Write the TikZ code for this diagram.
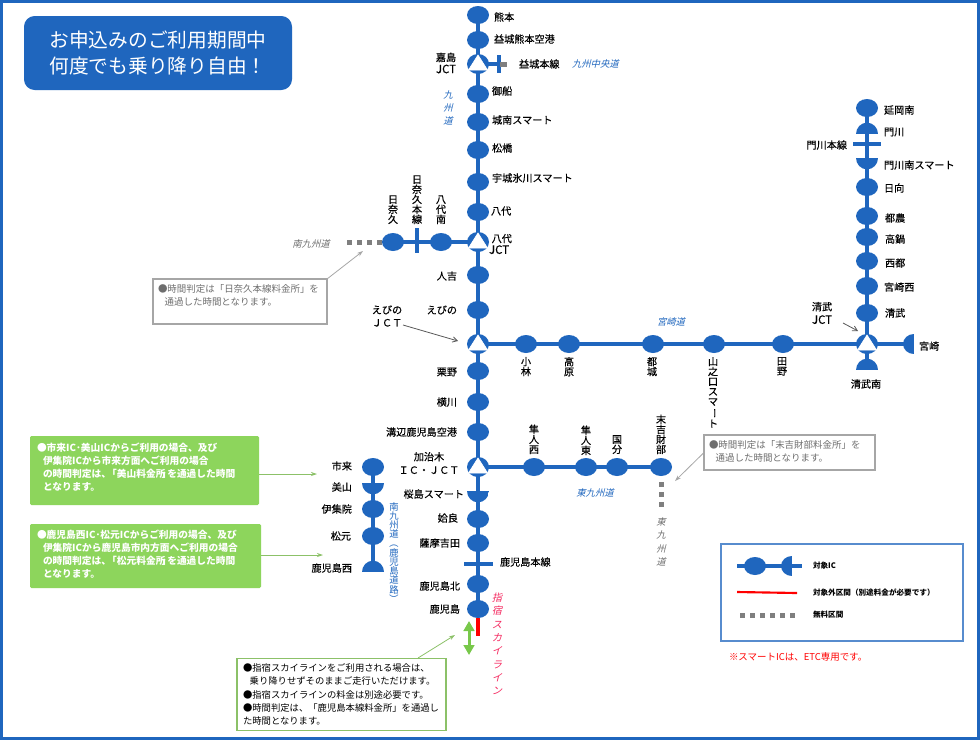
\documentclass[tikz,border=0pt]{standalone}
\usepackage{fontspec}
\setmainfont{Noto Sans CJK JP}
\newfontfamily\slantfont[FakeSlant=0.25]{Noto Sans CJK JP}
\newfontfamily\labfont[FakeBold=0.25]{Noto Sans CJK JP}
\usetikzlibrary{shapes.geometric,arrows.meta,backgrounds}
\definecolor{icblue}{HTML}{1F66BE}
\definecolor{framegray}{HTML}{A6A6A6}
\definecolor{notegray}{HTML}{6E6E6E}
\definecolor{dotgray}{HTML}{7F7F7F}
\definecolor{panelgreen}{HTML}{8DD55C}
\definecolor{linegreen}{HTML}{8CC168}
\definecolor{arrowgreen}{HTML}{78C84A}
\definecolor{pinkred}{HTML}{F5285F}
\newcommand{\vbarchar}{\rotatebox[origin=c]{-90}{ー}}
\newcommand{\vopen}{\rotatebox[origin=c]{-90}{（}}
\newcommand{\vclose}{\rotatebox[origin=c]{-90}{）}}
\newcommand{\fs}[2]{\fontsize{#1}{#2}\selectfont}
\newcommand{\pj}{\hspace{-3pt}}
\newcommand{\jctfont}{\fontsize{8.6}{9}\selectfont}
\tikzset{
  every node/.style={inner sep=0pt,outer sep=0pt},
  ic/.style={ellipse,fill=icblue,minimum width=16.5pt,minimum height=13.5pt},
  halfbase/.style={ellipse,minimum width=16.5pt,minimum height=17pt},
  halfdown/.style={halfbase,path picture={\fill[icblue] (path picture bounding box.west) rectangle (path picture bounding box.south east);}},
  halfup/.style={halfbase,path picture={\fill[icblue] (path picture bounding box.west) rectangle (path picture bounding box.north east);}},
  halfleft/.style={ellipse,minimum width=16.5pt,minimum height=15pt,path picture={\fill[icblue] (path picture bounding box.north) rectangle (path picture bounding box.south west);}},
  jct/.style={ic,minimum height=15pt,path picture={\filldraw[white,line width=.5pt,shift={(path picture bounding box.center)}] (0,-9) -- (9.5,6) -- (-9.5,6) -- cycle;}},
  road/.style={draw=icblue,line width=3.4pt},
  freedots/.style={draw=dotgray,line width=3.75pt,dash pattern=on 3.75pt off 3.75pt},
  barline/.style={draw=icblue,line width=3pt},
  lab/.style={font=\labfont\fs{7.6}{8}},
  vlab/.style={font=\labfont\fs{7.6}{7.5},align=center},
  road name/.style={font=\slantfont\fs{7}{8},text=icblue},
  thinarrow/.style={draw=#1,line width=.6pt,-{Stealth[length=4.5pt,width=3pt]}},
  barbarrow/.style={draw=#1,line width=.6pt,-{Straight Barb[length=3.5pt,width=4pt]}},
  grayframe/.style={draw=framegray,line width=2pt,fill=white},
  greenpanel/.style={fill=panelgreen,rounded corners=1pt},
  panelsmall/.style={font=\bfseries\fs{7.3}{9.9},text=white,align=left,anchor=west},
  graynote/.style={font=\fs{7.1}{9.9},text=notegray,align=left,anchor=west},
  legendtext/.style={font=\bfseries\fs{5.7}{6},anchor=west},
}
\begin{document}
\begin{tikzpicture}[x=.75pt,y=-.75pt]
\useasboundingbox (0,0) rectangle (980,740);
\begin{scope}[on background layer]
\fill[white] (0,0) rectangle (980,740);
\end{scope}
\node[draw=icblue,line width=2.25pt,minimum width=733pt,minimum height=552.75pt] (frame) at (490,370) {};
% title
\node[fill=icblue,rounded corners=8pt,minimum width=201pt,minimum height=55.5pt,text=white,align=center,font=\fs{14.8}{19.5}] (title) at (158,53) {お申込みのご利用期間中\\何度でも乗り降り自由！};

% ---- Kyushu expressway
\node[ic] (kumamoto) at (478,15) {};
\node[ic] (mashikiap) at (478,40) {};
\node[jct] (kashima) at (478,64) {};
\node[ic] (mifune) at (478,94) {};
\node[ic] (jonan) at (478,122) {};
\node[ic] (matsubase) at (478,150) {};
\node[ic] (ukijo) at (478,182) {};
\node[ic] (yatsushiro) at (478,212) {};
\node[jct] (yatsuj) at (478,242) {};
\node[ic] (hitoyoshi) at (478,275) {};
\node[ic] (ebino) at (478,310) {};
\node[jct] (ebinoj) at (478,344) {};
\node[ic] (kurino) at (478,371) {};
\node[ic] (yokogawa) at (478,402) {};
\node[ic] (mizobe) at (478,432) {};
\node[jct] (kajiki) at (478,467) {};
\node[halfdown] (sakurajima) at (478,491) {};
\node[ic] (aira) at (478,519) {};
\node[ic] (satsuma) at (478,543) {};
\coordinate (kmain) at (478,564);
\node[ic] (kagoshimakita) at (478,584) {};
\node[ic] (kagoshima) at (478,609) {};
\coordinate (skyend) at (478,636);
% Hinagu branch
\node[ic] (hinagu) at (393,242) {};
\node[ic] (yatsuminami) at (441,242) {};
\coordinate (hmain) at (417,242);
\coordinate (minamiend) at (347,242);
% Mashiki stub
\coordinate (mmain) at (499,64);
\coordinate (mstub) at (507,64);
% Miyazaki
\node[ic] (kobayashi) at (526,344) {};
\node[ic] (takaharu) at (569,344) {};
\node[ic] (miyakonojo) at (653,344) {};
\node[ic] (yamanokuchi) at (714,344) {};
\node[ic] (tano) at (783,344) {};
\node[jct] (kiyotakej) at (867,344) {};
\node[halfleft] (miyazaki) at (914,344) {};
\node[halfup] (kiyotakeminami) at (867,370) {};
% Higashi Kyushu north
\node[ic] (nobeokaminami) at (867,108) {};
\node[halfup] (kadogawa) at (867,134) {};
\coordinate (kadomain) at (867,144);
\node[halfdown] (kadogawaminami) at (867,158) {};
\node[ic] (hyuga) at (867,187) {};
\node[ic] (tsuno) at (867,216) {};
\node[ic] (takanabe) at (867,237) {};
\node[ic] (saito) at (867,261) {};
\node[ic] (miyazakinishi) at (867,286) {};
\node[ic] (kiyotake) at (867,313) {};
% Higashi Kyushu south
\node[ic] (hayatonishi) at (534,467) {};
\node[ic] (hayatohigashi) at (586,467) {};
\node[ic] (kokubu) at (617,467) {};
\node[ic] (sueyoshi) at (661,467) {};
\coordinate (sueend) at (661,507);
% Minami Kyushu
\node[ic] (ichiki) at (373,467) {};
\node[halfdown] (miyama) at (373,483) {};
\node[ic] (ijuin) at (373,509) {};
\node[ic] (matsumoto) at (373,536) {};
\node[halfup] (kagoshimanishi) at (373,572) {};

\begin{scope}[on background layer]
\draw[road] (kumamoto.center) -- (skyend |- kagoshima.center);
\draw[road] (hinagu.center) -- (yatsuj.center);
\draw[road] (kashima.center) -- (mstub);
\draw[road] (ebinoj.center) -- (kiyotakej.center) -- (miyazaki.center);
\draw[road] (nobeokaminami.center) -- (kiyotakeminami.center);
\draw[road] (kajiki.center) -- (sueyoshi.center);
\draw[road] (ichiki.center) -- (kagoshimanishi.center);
\draw[freedots] (minamiend) -- (hinagu.west);
\draw[freedots] (sueyoshi.south) ++(0,6) -- (sueend);
\end{scope}
\draw[line width=2.4pt,red] (kagoshima.south) -- (skyend);
\draw[barline] (417,228) -- (hmain) -- (417,253);
\draw[barline] (499,55) -- (mmain) -- (499,73);
\draw[line width=3.75pt,dotgray] (500,64) -- (mstub);
\draw[barline] (464,564) -- (kmain) -- (493,564);
\draw[barline] (853,144) -- (kadomain) -- (881,144);

% ---- labels right of the main line
\node[lab,anchor=west] (lkumamoto) at (494,17) {熊本};
\node[lab,anchor=west] (lmashikiap) at (494,39) {益城熊本空港};
\node[lab,anchor=west] (lmmain) at (519,64) {益城本線};
\node[road name,anchor=west] (rkyuchuo) at (572,64) {九州中央道};
\node[lab,anchor=west] (lmifune) at (492,91) {御船};
\node[lab,anchor=west] (ljonan) at (492,120) {城南スマート};
\node[lab,anchor=west] (lmatsubase) at (492,148) {松橋};
\node[lab,anchor=west] (lukijo) at (492,178) {宇城氷川スマート};
\node[lab,anchor=west] (lyatsushiro) at (491,211) {八代};
\node[lab,align=left,anchor=west,font=\labfont\fs{7.6}{8.6}] (lyatsuj) at (489,244) {\hspace{2pt}八代\\{\jctfont JCT}};
\node[lab,align=center,font=\labfont\fs{7.6}{9}] (lkashima) at (446,63) {嘉島\\{\jctfont JCT}};
\node[road name,align=center,font=\slantfont\fs{7}{10}] (rkyushu) at (448,108) {九\\州\\道};
% Hinagu
\node[vlab,anchor=south] (lhinagu) at (393,224) {日\\奈\\久};
\node[vlab,anchor=south] (lhmain) at (417,224) {日\\奈\\久\\本\\線};
\node[vlab,anchor=south] (lyatsuminami) at (441,224) {八\\代\\南};
\node[road name,text=notegray] (rminami) at (311,244) {南九州道};
% left labels
\node[lab,anchor=east] (lhitoyoshi) at (457,276) {人吉};
\node[lab,anchor=east] (lebino) at (457,310) {えびの};
\node[lab,align=center,font=\labfont\fs{7.6}{9.6}] (lebinoj) at (387,316) {えびの\\ＪＣＴ};
\node[lab,anchor=east] (lkurino) at (457,372) {栗野};
\node[lab,anchor=east] (lyokogawa) at (457,402) {横川};
\node[lab,anchor=east] (lmizobe) at (457,432) {溝辺鹿児島空港};
\node[lab,align=center,font=\labfont\fs{7.6}{10}] (lkajiki) at (429,463) {加治木\\ＩＣ・ＪＣＴ};
\node[lab,anchor=east] (lsakurajima) at (464,494) {桜島スマート};
\node[lab,anchor=east] (laira) at (458,518) {姶良};
\node[lab,anchor=east] (lsatsuma) at (460,543) {薩摩吉田};
\node[lab,anchor=west] (lkmain) at (500,562) {鹿児島本線};
\node[lab,anchor=east] (lkagoshimakita) at (460,586) {鹿児島北};
\node[lab,anchor=east] (lkagoshima) at (460,609) {鹿児島};
\node[align=center,text=pinkred,font=\slantfont\fs{7.6}{10}] (rsky) at (497,644) {指\\宿\\ス\\カ\\イ\\ラ\\イ\\ン};
% Miyazaki
\node[vlab,anchor=north] (lkobayashi) at (526,357) {小\\林};
\node[vlab,anchor=north] (ltakaharu) at (569,357) {高\\原};
\node[vlab,anchor=north] (lmiyakonojo) at (652,357) {都\\城};
\node[vlab,anchor=north] (lyamanokuchi) at (713,357) {山\\之\\口\\ス\\マ\\\vbarchar\\ト};
\node[vlab,anchor=north] (ltano) at (782,357) {田\\野};
\node[road name] (rmiyazaki) at (671,322) {宮崎道};
% Higashi Kyushu north
\node[lab,anchor=west] (lnobeokaminami) at (884,110) {延岡南};
\node[lab,anchor=west] (lkadogawa) at (884,132) {門川};
\node[lab,anchor=east] (lkadomain) at (847,145) {門川本線};
\node[lab,anchor=west] (lkadogawaminami) at (884,165) {門川南スマート};
\node[lab,anchor=west] (lhyuga) at (884,188) {日向};
\node[lab,anchor=west] (ltsuno) at (885,218) {都農};
\node[lab,anchor=west] (ltakanabe) at (885,239) {高鍋};
\node[lab,anchor=west] (lsaito) at (885,263) {西都};
\node[lab,anchor=west] (lmiyazakinishi) at (884,287) {宮崎西};
\node[lab,anchor=west] (lkiyotake) at (885,313) {清武};
\node[lab,align=center,font=\labfont\fs{7.6}{10}] (lkiyotakej) at (822,313) {清武\\{\jctfont JCT}};
\node[lab,anchor=west] (lmiyazaki) at (919,346) {宮崎};
\node[lab] (lkiyotakeminami) at (866,384) {清武南};
% Higashi Kyushu south
\node[vlab,anchor=south] (lhayatonishi) at (534,454) {隼\\人\\西};
\node[vlab,anchor=south] (lhayatohigashi) at (586,455) {隼\\人\\東};
\node[vlab,anchor=south] (lkokubu) at (617,454) {国\\分};
\node[vlab,anchor=south] (lsueyoshi) at (661,454) {末\\吉\\財\\部};
\node[road name] (rhigashi) at (595,493) {東九州道};
\node[road name,text=notegray,align=center,font=\slantfont\fs{7}{10}] (rhigashi2) at (661,542) {東\\九\\州\\道};
% Minami Kyushu
\node[lab,anchor=east] (lichiki) at (352,466) {市来};
\node[lab,anchor=east] (lmiyama) at (352,487) {美山};
\node[lab,anchor=east] (lijuin) at (352,509) {伊集院};
\node[lab,anchor=east] (lmatsumoto) at (351,536) {松元};
\node[lab,anchor=east] (lkagoshimanishi) at (352,568) {鹿児島西};
\node[align=center,text=icblue,font=\fs{7}{6.9}] (rkagoshimaroad) at (394,553) {南\\九\\州\\道\\\vopen\\鹿\\児\\島\\道\\路\\\vclose};

% ---- connectors for junction captions
\coordinate (ebinotip) at (458,341);
\draw[barbarrow=black!65] (403,325) -- (ebinotip);
\coordinate (kiyotip) at (858,331);
\draw[barbarrow=black!65] (843,323) -- (kiyotip);

% ---- green panels
\node[greenpanel,minimum width=171.75pt,minimum height=51.75pt] (panela) at (144.5,470.5) {};
\node[panelsmall] (panelatext) at (37,467) {●市来IC･美山ICからご利用の場合、及び\\\hspace{4.5pt}伊集院ICから市来方面へご利用の場合\\\hspace{4.5pt}の時間判定は、\pj「美山料金所\pj」\pj を通過した時間\\\hspace{4.5pt}となります。};
\coordinate (panelatip) at (317,474);
\draw[thinarrow=linegreen] (panela.east |- panelatip) -- (panelatip);
\node[greenpanel,minimum width=173.25pt,minimum height=48pt] (panelb) at (145.5,556) {};
\node[panelsmall] (panelbtext) at (37,554) {●鹿児島西IC･松元ICからご利用の場合、及び\\\hspace{4.5pt}伊集院ICから鹿児島市内方面へご利用の場合\\\hspace{4.5pt}の時間判定は、\pj「松元料金所\pj」\pj を通過した時間\\\hspace{4.5pt}となります。};
\coordinate (panelbtip) at (323,555);
\draw[thinarrow=linegreen] (panelb.east |- panelbtip) -- (panelbtip);

% ---- gray notes
\node[grayframe,minimum width=130.5pt,minimum height=33.75pt] (noteh) at (240,301.5) {};
\node[graynote] (notehtext) at (158,295.5) {●時間判定は「日奈久本線料金所」を\\\hspace{5pt}通過した時間となります。};
\coordinate (notehtip) at (363,251);
\draw[thinarrow=framegray] (noteh.north east) -- (notehtip);
\node[grayframe,minimum width=128.25pt,minimum height=26.25pt] (notes) at (789.5,452.5) {};
\node[graynote] (notestext) at (709,451.5) {●時間判定は「末吉財部料金所」を\\\hspace{5pt}通過した時間となります。};
\coordinate (notestip) at (675,481);
\draw[thinarrow=framegray] (notes.west) -- (notestip);

% ---- skyline note
\coordinate (gtop) at (469,621);
\coordinate (gbot) at (469,655);
\draw[line width=2.25pt,draw=arrowgreen,{Triangle[length=7.5pt,width=8pt]}-{Triangle[length=7.5pt,width=8pt]}] (gtop) -- (gbot);
\node[draw=linegreen,line width=1.2pt,minimum width=156.75pt,minimum height=54pt,fill=white] (skynote) at (341.5,694.5) {};
\node[anchor=west,align=left,font=\fs{7}{9.9}] (skynotetext) at (243,694.5) {●指宿スカイラインをご利用される場合は、\\\hspace{5pt}乗り降りせずそのままご走行いただけます。\\●指宿スカイラインの料金は別途必要です。\\●時間判定は、「鹿児島本線料金所」を通過し\\た時間となります。};
\coordinate (skytip) at (455,635);
\draw[thinarrow=linegreen] (418,658) -- (skytip);

% ---- legend
\node[draw=icblue!75!white,line width=1.1pt,minimum width=181.5pt,minimum height=73pt] (legend) at (842,592.5) {};
\coordinate (lega) at (737,566);
\coordinate (legb) at (802,566);
\draw[road] (lega) -- (legb);
\node[ic] (legic) at (755,566) {};
\node[halfleft] (leghalf) at (792,566) {};
\node[legendtext] (legt1) at (813,566) {対象IC};
\coordinate (legc) at (737,592);
\coordinate (legd) at (797,593);
\draw[red,line width=1.6pt] (legc) -- (legd);
\node[legendtext] (legt2) at (813,593) {対象外区間（別途料金が必要です）};
\coordinate (lege) at (740,615);
\coordinate (legf) at (797,615);
\draw[freedots] (lege) -- (legf);
\node[legendtext] (legt3) at (813,615) {無料区間};
\node[anchor=west,text=red,font=\fs{7.1}{8}] (smartnote) at (729,657) {※スマートICは、ETC専用です。};
\end{tikzpicture}
\end{document}
